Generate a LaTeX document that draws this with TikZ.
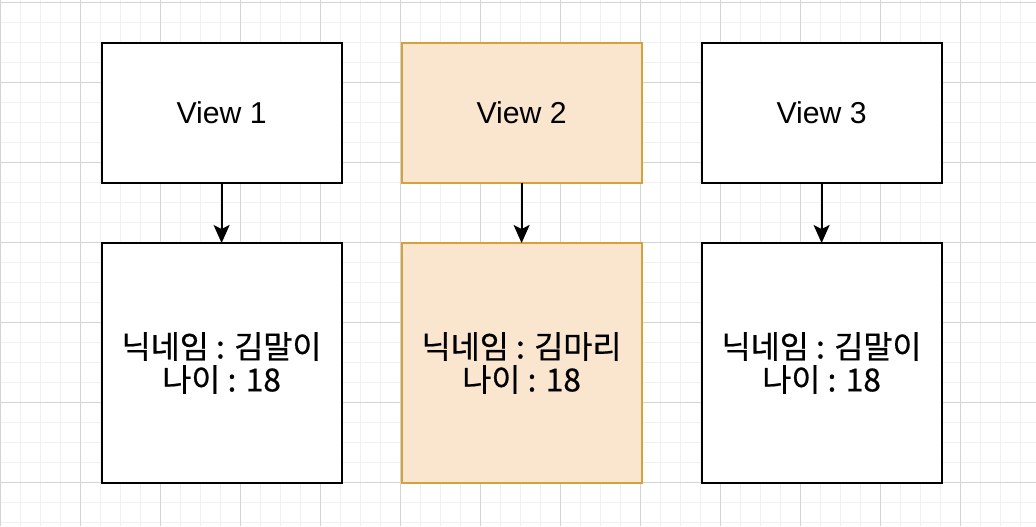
\documentclass[tikz,border=0pt]{standalone}
\usepackage{fontspec}
\setmainfont{Liberation Sans}
\newfontfamily\kr[FakeBold=0.6]{Noto Sans CJK KR}
\usepackage{xcolor}
\usetikzlibrary{positioning,arrows.meta}

\definecolor{gridminor}{RGB}{240,240,240}
\definecolor{gridmajor}{RGB}{212,212,212}
\definecolor{selfill}{RGB}{250,230,207}
\definecolor{selline}{RGB}{214,160,58}

\begin{document}
\begin{tikzpicture}[
          node distance=1.5cm,
          view/.style={draw, line width=1.4pt, outer sep=0pt, fill=white, minimum width=6cm, minimum height=3.5cm, font=\fontsize{21.5}{24}\selectfont},
          info/.style={draw, line width=1.4pt, outer sep=0pt, fill=white, minimum width=6cm, minimum height=6cm, align=center, font=\kr\fontsize{22.5}{23.5}\selectfont},
          sel/.style={fill=selfill, draw=selline},
          arr/.style={-{Stealth[length=4.5mm, width=4mm, inset=1mm]}, line width=1.4pt}
      ]
        \useasboundingbox[fill=white] (0,0) rectangle (25.9,-13.15);
        % background grid
        \foreach \x in {0,0.5,...,25.9} \draw[gridminor, line width=0.7pt] (\x,0) -- (\x,-13.15);
        \foreach \y in {0.07,0.57,...,13.15} \draw[gridminor, line width=0.7pt] (0,-\y) -- (25.9,-\y);
        \foreach \x in {0,2,...,25.9} \draw[gridmajor, line width=0.7pt] (\x,0) -- (\x,-13.15);
        \foreach \y in {0.07,2.07,...,13.15} \draw[gridmajor, line width=0.7pt] (0,-\y) -- (25.9,-\y);

        \node[view] (view1) at (5.54,-2.825) {View 1};
        \node[view, sel, right=of view1] (view2) {View 2};
        \node[view, right=of view2] (view3) {View 3};
        \node[info, below=of view1] (info1) {닉네임 : 김말이\\나이 : 18};
        \node[info, sel, below=of view2] (info2) {닉네임 : 김마리\\나이 : 18};
        \node[info, below=of view3] (info3) {닉네임 : 김말이\\나이 : 18};
        \draw[arr] (view1) -- (info1);
        \draw[arr] (view2) -- (info2);
        \draw[arr] (view3) -- (info3);
      \end{tikzpicture}
\end{document}
